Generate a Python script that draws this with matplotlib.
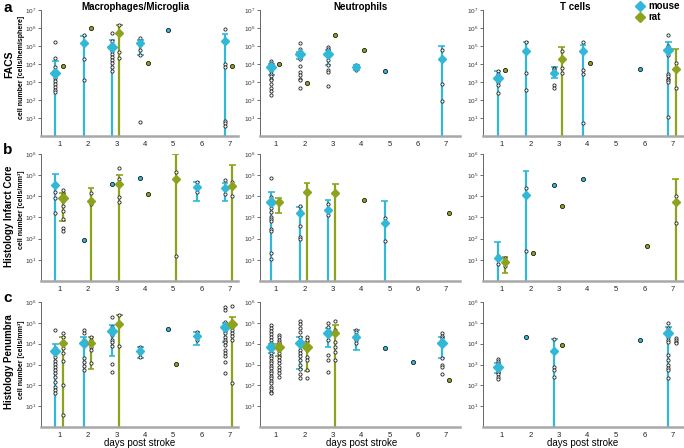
import matplotlib
matplotlib.use('Agg')
import matplotlib.pyplot as plt
from matplotlib.lines import Line2D
from matplotlib.ticker import LogFormatterMathtext, NullLocator

plt.rcParams['font.family'] = ['Liberation Sans', 'DejaVu Sans']
plt.rcParams['mathtext.fontset'] = 'custom'
plt.rcParams['mathtext.rm'] = 'Liberation Sans'
plt.rcParams['mathtext.it'] = 'Liberation Sans:italic'
plt.rcParams['mathtext.bf'] = 'Liberation Sans:bold'

# ---------------- data (values as log10 exponents) ----------------
# group: (species, day, mean, sd_low, sd_high, individual points)
# mean only (no sd, no points) = single study value; sd_low 0 = bar reaches axis
DAYS = [1, 2, 3, 4, 5, 6, 7]
CELL_TYPES = ["Macrophages/Microglia", "Neutrophils", "T cells"]
METHODS = ["FACS", "Histology Infarct Core", "Histology Penumbra"]
UNITS = ["cell number [cells/hemisphere]", "cell number [cells/mm³]", "cell number [cells/mm³]"]
SPECIES = ["mouse", "rat"]

facs_mac = [
    ("mouse", 1, 3.52, 0, 4.15, [5.23, 4.36, 3.83, 3.6, 3.42, 3.2, 3.03, 2.9, 2.72, 2.57, 2.44]),
    ("rat", 1, 3.89, None, None, []),
    ("mouse", 2, 5.14, 0, 5.55, [5.6, 5.14, 4.3, 3.09]),
    ("rat", 2, 6.0, None, None, []),
    ("mouse", 3, 4.95, 0, 5.32, [5.73, 5.3, 5.04, 4.82, 4.73, 4.58, 4.39, 4.2, 4.06, 3.83, 3.6]),
    ("rat", 3, 5.7, 0, 6.16, [6.16, 5.7, 4.67, 4.36]),
    ("mouse", 4, 5.14, 4.49, 5.32, [5.47, 5.27, 5.04, 4.8, 4.49, 0.76]),
    ("rat", 4, 4.08, None, None, []),
    ("mouse", 5, 5.88, None, None, []),
    ("mouse", 7, 5.27, 0, 5.64, [5.92, 5.32, 4.02, 3.83, 0.85, 0.7, 0.54]),
    ("rat", 7, 3.89, None, None, []),
]
facs_neu = [
    ("mouse", 1, 3.84, 3.37, 4.02, [4.15, 4.06, 3.93, 3.84, 3.74, 3.61, 3.46, 3.31, 3.18, 3.09, 2.9, 2.68, 2.5, 2.25]),
    ("rat", 1, 4.0, None, None, []),
    ("mouse", 2, 4.54, 4.3, 4.67, [5.17, 4.86, 4.3, 3.89, 3.56, 3.37, 3.18, 3.09, 2.68]),
    ("rat", 2, 2.94, None, None, []),
    ("mouse", 3, 4.58, 3.93, 4.77, [4.95, 4.86, 4.73, 4.49, 4.2, 3.93, 3.65, 3.56, 2.75]),
    ("rat", 3, 5.6, None, None, []),
    ("mouse", 4, 3.84, 3.65, 3.93, [3.93, 3.84, 3.65]),
    ("rat", 4, 4.77, None, None, []),
    ("mouse", 5, 3.59, None, None, []),
    ("mouse", 7, 4.3, 0, 5.0, [4.77, 2.87, 1.93]),
]
facs_t = [
    ("mouse", 1, 3.24, 0, 3.59, [3.59, 3.46, 3.31, 3.2, 3.13, 3.0, 2.81, 2.38]),
    ("rat", 1, 3.65, None, None, []),
    ("mouse", 2, 4.71, 0, 5.23, [5.23, 4.73, 3.5, 2.57]),
    ("mouse", 3, 3.52, 3.2, 3.83, [3.8, 3.7, 3.6, 3.52, 3.43, 2.81, 2.68]),
    ("rat", 3, 4.3, 0, 4.95, [4.71, 3.78, 3.5]),
    ("mouse", 4, 4.71, 0, 5.08, [5.23, 4.77, 4.68, 3.65, 3.43, 0.72]),
    ("rat", 4, 4.08, None, None, []),
    ("mouse", 6, 3.74, None, None, []),
    ("mouse", 7, 4.77, 0, 5.2, [5.6, 4.98, 4.51, 3.46, 3.31, 3.18, 3.09, 3.0, 1.08]),
    ("rat", 7, 3.74, 0, 4.82, [4.06, 2.68]),
]
core_mac = [
    ("mouse", 1, 4.54, 0, 5.04, [4.22, 3.9, 3.2]),
    ("rat", 1, 3.9, 2.85, 4.17, [4.3, 4.11, 3.8, 3.54, 3.3, 2.93, 2.49, 2.38]),
    ("mouse", 2, 1.94, None, None, []),
    ("rat", 2, 3.78, 0, 4.38, [4.17, 3.72, 3.64]),
    ("mouse", 3, 4.57, None, None, []),
    ("rat", 3, 4.58, 0, 5.0, [5.32, 4.8, 3.98, 3.75]),
    ("mouse", 4, 4.88, None, None, []),
    ("rat", 4, 4.11, None, None, []),
    ("rat", 5, 4.82, 0, 5.98, [5.13, 1.18]),
    ("mouse", 6, 4.46, 3.8, 4.66, [4.66, 4.46, 4.22]),
    ("mouse", 7, 4.38, 3.8, 4.61, [4.77, 4.46, 4.09]),
    ("rat", 7, 4.49, 0, 5.46, [4.69, 4.02]),
]
core_neu = [
    ("mouse", 1, 3.75, 0, 4.19, [4.85, 3.95, 3.67, 3.43, 3.28, 3.04, 2.91, 2.83, 2.44, 2.38, 1.31, 1.02]),
    ("rat", 1, 3.72, 3.2, 3.94, []),
    ("mouse", 2, 3.2, 0, 3.51, [3.54, 3.3, 2.6, 2.06, 1.97]),
    ("rat", 2, 4.19, 0, 4.65, []),
    ("mouse", 3, 3.36, 0, 3.83, [3.62, 3.11]),
    ("rat", 3, 4.14, 0, 4.57, []),
    ("rat", 4, 3.83, None, None, []),
    ("mouse", 5, 2.72, 0, 3.79, [2.96, 1.91]),
    ("rat", 7, 3.2, None, None, []),
]
core_t = [
    ("mouse", 1, 1.07, 0, 1.86, [1.2, 0.81]),
    ("rat", 1, 0.91, 0.38, 1.15, [1.1, 1.0, 0.85, 0.73]),
    ("mouse", 2, 4.06, 0, 5.2, [4.38, 1.43]),
    ("rat", 2, 1.3, None, None, []),
    ("mouse", 3, 4.54, None, None, []),
    ("rat", 3, 3.54, None, None, []),
    ("mouse", 4, 4.81, None, None, []),
    ("rat", 6, 1.66, None, None, []),
    ("rat", 7, 3.74, 0, 4.81, [4.0, 2.76]),
]
pen_mac = [
    ("mouse", 1, 3.66, 0, 3.98, [4.68, 3.77, 3.56, 3.37, 3.18, 3.02, 2.86, 2.74, 2.58, 2.39, 2.18, 1.94, 1.78, 1.65]),
    ("rat", 1, 4.04, 0, 4.33, [4.52, 4.33, 3.77, 3.56, 3.18, 2.02, 0.59]),
    ("mouse", 2, 4.04, 0, 4.33, [4.65, 4.52, 4.2, 4.09, 4.0, 3.29, 3.13, 2.93, 2.74]),
    ("rat", 2, 4.01, 2.77, 4.3, [4.3, 4.17, 4.04, 3.85, 3.69, 3.05]),
    ("mouse", 3, 4.61, 3.4, 4.92, [5.28, 4.81, 4.61, 4.41, 4.2, 4.09, 3.88, 3.02, 2.66]),
    ("rat", 3, 4.96, 0, 5.36, [5.36, 5.0, 4.9, 3.88]),
    ("mouse", 4, 3.66, 3.32, 3.82, [3.82, 3.72, 3.64, 3.53, 3.37]),
    ("mouse", 5, 4.69, None, None, []),
    ("rat", 5, 3.02, None, None, []),
    ("mouse", 6, 4.36, 3.96, 4.57, [4.54, 4.41, 4.17]),
    ("mouse", 7, 4.81, 4.06, 5.01, [5.76, 5.6, 5.04, 4.88, 4.72, 4.61, 4.49, 4.33, 4.2, 4.09, 3.93, 3.72, 3.56, 3.4, 3.13, 2.58]),
    ("rat", 7, 4.93, 0, 5.28, [5.79, 4.96, 4.81, 4.68, 4.52, 4.36, 4.17, 2.1]),
]
pen_neu = [
    ("mouse", 1, 3.82, 3.53, 4.0, [4.92, 4.77, 4.61, 4.46, 4.3, 4.17, 4.04, 3.93, 3.82, 3.69, 3.53, 3.4, 3.29,
                                   3.18, 3.05, 2.93, 2.82, 2.7, 2.58, 2.45, 2.34, 2.23, 2.1, 1.94, 1.81, 1.7, 1.62]),
    ("rat", 1, 3.82, 3.4, 4.0, [4.44, 4.33, 4.2, 4.09, 3.98, 3.85, 3.72, 3.56, 3.37, 3.21, 3.05, 2.89, 2.74, 2.58, 2.42]),
    ("mouse", 2, 4.04, 2.78, 4.33, [5.09, 4.96, 4.73, 4.57, 4.33, 4.09, 3.93, 3.72, 3.56, 3.4, 3.21, 2.97, 2.77, 2.54, 2.34]),
    ("rat", 2, 3.82, 2.7, 4.09, [4.33, 4.17, 3.93, 3.69, 3.37, 3.21, 2.74, 2.34]),
    ("mouse", 3, 4.49, 3.82, 4.73, [5.0, 4.81, 4.57, 4.41, 4.17, 3.45, 3.21, 2.66]),
    ("rat", 3, 4.49, 0, 4.89, [5.09, 4.65, 4.09, 3.85, 3.61, 3.21]),
    ("mouse", 4, 4.33, 3.69, 4.68, [4.68, 4.57, 4.41, 4.2, 4.01]),
    ("mouse", 5, 3.77, None, None, []),
    ("mouse", 6, 3.13, None, None, []),
    ("mouse", 7, 4.04, 3.29, 4.3, [4.49, 4.38, 4.25, 4.14, 3.29, 2.97, 2.86, 2.54]),
    ("rat", 7, 2.26, None, None, []),
]
pen_t = [
    ("mouse", 1, 2.86, 2.58, 3.05, [3.25, 3.17, 3.09, 2.97, 2.89, 2.82, 2.74, 2.66, 2.53, 2.42, 2.29]),
    ("mouse", 2, 4.33, None, None, []),
    ("mouse", 3, 3.64, 0, 4.22, [4.22, 2.9, 2.74, 2.39]),
    ("rat", 3, 3.96, None, None, []),
    ("mouse", 6, 4.17, None, None, []),
    ("mouse", 7, 4.49, 0, 4.78, [5.01, 4.73, 4.57, 4.33, 4.2, 4.09, 3.45, 3.21, 2.97, 2.82, 2.74, 2.37]),
    ("rat", 7, None, None, None, [4.25, 4.17, 4.09, 4.01]),
]
PANELS = [[facs_mac, facs_neu, facs_t],
          [core_mac, core_neu, core_t],
          [pen_mac, pen_neu, pen_t]]
YTOP = [7, 6, 6]

# ---------------- style ----------------
COLORS = {"mouse": "#31b7d8", "rat": "#8ea31d"}
OFFS = {"mouse": -0.16, "rat": 0.1}
W, H = 684, 448
fig = plt.figure(figsize=(W / 100, H / 100), dpi=100)

COL_X = [(41, 238), (260, 460), (483, 684)]
XLIMS = [(0.33, 7.3), (0.44, 7.49), (0.33, 7.39)]
ROW_Y = [(10, 136), (154, 281), (302, 427)]


def draw(ax, groups):
    for sp, day, mean, lo, hi, pts in groups:
        col = COLORS[sp]
        x = day + OFFS[sp]
        if lo is not None:
            ax.vlines(x, 10 ** lo, 10 ** hi, color=col, lw=1.6, zorder=2)
            ax.hlines(10 ** hi, x - 0.12, x + 0.12, color=col, lw=1.2, zorder=2)
            if lo > 0:
                ax.hlines(10 ** lo, x - 0.12, x + 0.12, color=col, lw=1.2, zorder=2)
        if pts:
            ax.plot([x] * len(pts), [10 ** p for p in pts], 'o', ms=2.3, mfc='white',
                    mec='#222222', mew=0.6, ls='none', zorder=3)
        if mean is None:
            continue
        if lo is None and not pts:
            ax.plot([x], [10 ** mean], 'o', ms=3.0, mfc=col, mec='#1a1a1a', mew=0.6, zorder=4)
        else:
            big = len(pts) >= 8
            ax.plot([x], [10 ** mean], 'D', ms=5.2 if big else 3.6, mfc=col, mec=col, zorder=4)


for r in range(3):
    for c in range(3):
        l, rgt = COL_X[c]
        t, b = ROW_Y[r]
        ax = fig.add_axes([l / W, 1 - b / H, (rgt - l) / W, (b - t) / H])
        draw(ax, PANELS[r][c])
        ax.set_yscale('log')
        ax.set_ylim(1, 10 ** YTOP[r])
        ax.set_xlim(*XLIMS[c])
        ax.set_yticks([10 ** k for k in range(1, YTOP[r] + 1)])
        ax.yaxis.set_major_formatter(LogFormatterMathtext())
        ax.yaxis.set_minor_locator(NullLocator())
        ax.set_xticks(DAYS)
        ax.set_xticklabels([str(d) for d in DAYS])
        ax.tick_params(axis='y', labelsize=4.6, length=2, width=0.6, color='#555555', pad=1, labelcolor='#333333')
        ax.tick_params(axis='x', labelsize=5.5, length=0, pad=3.5, labelcolor='#222222')
        for s in ('top', 'right'):
            ax.spines[s].set_visible(False)
        ax.spines['left'].set_color('#666666')
        ax.spines['left'].set_linewidth(0.7)
        ax.spines['bottom'].set_color('#a8a8a8')
        ax.spines['bottom'].set_linewidth(1.8)
        ax.set_facecolor('none')


def T(x, y, s, **kw):
    fig.text(x / W, 1 - y / H, s, **kw)


for cx, name in zip([135, 360, 575], CELL_TYPES):
    T(cx, 7, name, ha='center', va='center', fontsize=7, fontweight='bold')
for cy, m, u, fs, uy in zip([64, 216, 362], METHODS, UNITS, [7.5, 7, 7], [67, 210, 360]):
    T(9, cy, m, ha='center', va='center', rotation=90, fontsize=fs, fontweight='bold')
    T(22, uy, u, ha='center', va='center', rotation=90, fontsize=5, fontweight='bold')
for y, letter in zip([8, 150, 298], "abc"):
    T(3, y, letter, ha='left', va='center', fontsize=11, fontweight='bold')
for cx in [140, 362, 583]:
    T(cx, 446, "days post stroke", ha='center', va='baseline', fontsize=7)

# legend drawn at fixed figure positions
for sp, y in zip(SPECIES, [6, 17]):
    fig.add_artist(Line2D([640 / W], [1 - y / H], marker='D', ls='none', ms=5.5,
                          mfc=COLORS[sp], mec=COLORS[sp], transform=fig.transFigure))
    T(648, y, sp, ha='left', va='center', fontsize=7, fontweight='bold')

fig.savefig('out.png', dpi=100)
